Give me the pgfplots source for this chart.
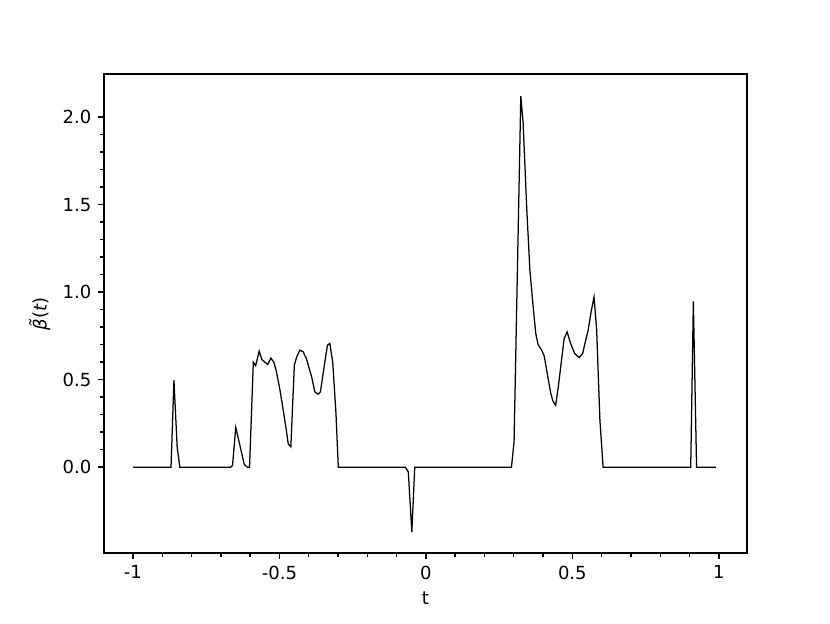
\documentclass[border=0pt]{standalone}
\usepackage{fontspec}
\setmainfont{DejaVu Sans}
\usepackage{pgfplots}
\pgfplotsset{compat=1.18}
\usetikzlibrary{calc}
\begin{document}
\begin{tikzpicture}
\begin{axis}[
  name=ax,
  scale only axis,
  width=357pt, height=266pt,
  xmin=-1.099, xmax=1.096,
  ymin=-0.491, ymax=2.246,
  xtick={-1,-0.5,0,0.5,1},
  xticklabels={-1,-0.5,0,0.5,1},
  ytick={0,0.5,1,1.5,2},
  yticklabels={0.0,0.5,1.0,1.5,2.0},
  minor x tick num=4,
  minor y tick num=4,
  tick align=outside,
  tick pos=left,
  major tick length=3.5pt,
  minor tick length=2pt,
  every tick/.style={line width=0.8pt, black},
  axis line style={line width=0.8pt},
  tick label style={font=\fontsize{10}{12}\selectfont},
  label style={font=\fontsize{10}{12}\selectfont},
  xlabel={t},
  ylabel={{\itshape β̃}(\textit{t})},
]
\addplot[no marks, black, line width=0.7pt] coordinates {
(-1,0) (-0.87,0) (-0.86,0.497) (-0.849,0.116) (-0.84,0) (-0.666,0) (-0.66,0.01)
(-0.649,0.227) (-0.635,0.126) (-0.62,0.015) (-0.609,0) (-0.602,0) (-0.589,0.60)
(-0.581,0.58) (-0.569,0.663) (-0.560,0.615) (-0.540,0.587) (-0.529,0.623)
(-0.519,0.60) (-0.510,0.545) (-0.498,0.44) (-0.487,0.326) (-0.478,0.23)
(-0.470,0.135) (-0.461,0.116) (-0.449,0.583) (-0.441,0.63) (-0.430,0.669)
(-0.419,0.659) (-0.408,0.621) (-0.390,0.516) (-0.379,0.43) (-0.368,0.417)
(-0.360,0.43) (-0.345,0.60) (-0.336,0.697) (-0.328,0.707) (-0.318,0.60)
(-0.307,0.31) (-0.299,0) (-0.07,0) (-0.06,-0.027) (-0.048,-0.37) (-0.038,0)
(0.292,0) (0.301,0.145) (0.324,2.12) (0.332,1.964) (0.344,1.487) (0.355,1.126)
(0.366,0.92) (0.375,0.764) (0.383,0.70) (0.395,0.67) (0.404,0.634) (0.414,0.538)
(0.426,0.424) (0.434,0.376) (0.443,0.354) (0.452,0.459) (0.463,0.611)
(0.472,0.735) (0.482,0.773) (0.494,0.707) (0.508,0.649) (0.523,0.626)
(0.535,0.649) (0.543,0.707) (0.554,0.783) (0.563,0.878) (0.574,0.973)
(0.583,0.783) (0.594,0.269) (0.605,0) (0.904,0) (0.913,0.947) (0.924,0) (0.99,0)
};
\end{axis}
\path ($(ax.south west)+(-57.7pt,-38.9pt)$) rectangle ($(ax.north east)+(46.1pt,41.1pt)$);
\end{tikzpicture}
\end{document}
